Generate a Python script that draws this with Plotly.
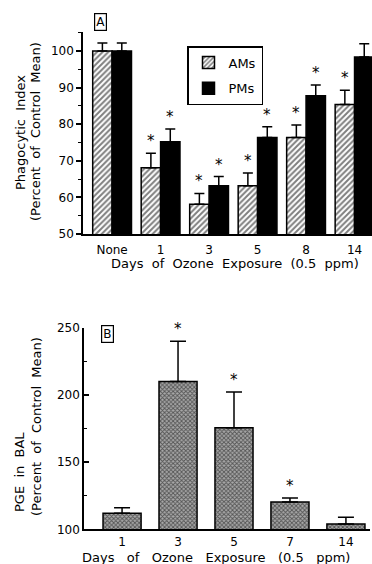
import plotly.graph_objects as go

# ---- Data ----
cats_a = ["None", "1", "3", "5", "8", "14"]
am_vals = [100, 68.1, 58.1, 63.2, 76.4, 85.4]
am_err = [2.2, 4.0, 3.0, 3.5, 3.4, 3.9]
pm_vals = [100, 75.2, 63.2, 76.4, 87.8, 98.4]
pm_err = [2.2, 3.5, 2.5, 2.9, 2.9, 3.6]
am_sig = [False, True, True, True, True, True]
pm_sig = [False, True, True, True, True, False]

cats_b = ["1", "3", "5", "7", "14"]
pge_vals = [112, 210, 175.6, 120.3, 104]
pge_err = [4, 30, 26.6, 3.0, 5]
pge_sig = [False, True, True, True, False]

W, H = 372, 564
FONT = "DejaVu Sans"

def px(x):
    return x / W

def py(y):
    return 1 - y / H

xa = list(range(len(cats_a)))
xb = list(range(len(cats_b)))

fig = go.Figure()

fig.add_trace(go.Bar(
    x=xa, y=am_vals, name="AMs", offset=-0.4, width=0.4,
    marker=dict(color="white", line=dict(color="black", width=1.5),
                pattern=dict(shape="/", fgcolor="black", bgcolor="white", size=4, solidity=0.5)),
    error_y=dict(type="data", symmetric=False, array=am_err, arrayminus=[0]*len(am_err),
                 color="black", thickness=1.5, width=5),
    legendgroup="am", xaxis="x", yaxis="y"))
fig.add_trace(go.Bar(
    x=xa, y=pm_vals, name="PMs", offset=0, width=0.4,
    marker=dict(color="black", line=dict(color="black", width=1.5)),
    error_y=dict(type="data", symmetric=False, array=pm_err, arrayminus=[0]*len(pm_err),
                 color="black", thickness=1.5, width=5),
    legendgroup="pm", xaxis="x", yaxis="y"))

fig.add_trace(go.Bar(
    x=xb, y=pge_vals, width=0.68, showlegend=False,
    marker=dict(color="#a0a0a0", line=dict(color="black", width=1.5),
                pattern=dict(shape="x", fgcolor="black", bgcolor="#a8a8a8", size=3, solidity=0.5)),
    error_y=dict(type="data", symmetric=False, array=pge_err, arrayminus=[0]*len(pge_err),
                 color="black", thickness=1.5, width=8),
    xaxis="x2", yaxis="y2"))

annotations = []
star_font = dict(size=15, family=FONT, color="black")
for i, s in enumerate(am_sig):
    if s:
        annotations.append(dict(x=i - 0.2, y=am_vals[i] + am_err[i], xref="x", yref="y",
                                text="*", showarrow=False, xanchor="center", yanchor="bottom",
                                yshift=1, font=star_font))
for i, s in enumerate(pm_sig):
    if s:
        annotations.append(dict(x=i + 0.2, y=pm_vals[i] + pm_err[i], xref="x", yref="y",
                                text="*", showarrow=False, xanchor="center", yanchor="bottom",
                                yshift=1, font=star_font))
for i, s in enumerate(pge_sig):
    if s:
        annotations.append(dict(x=i, y=pge_vals[i] + pge_err[i], xref="x2", yref="y2",
                                text="*", showarrow=False, xanchor="center", yanchor="bottom",
                                yshift=1, font=star_font))

tf = dict(size=13, family=FONT, color="black")
sp2 = "\u00a0 "
sp3 = "\u00a0\u00a0 "
xtitle_a = sp2.join(["Days", "of", "Ozone", "Exposure", "(0.5", "ppm)"])
xtitle_b = sp3.join(["Days", "of", "Ozone", "Exposure", "(0.5", "ppm)"])
ytitle2 = sp2.join(["(Percent", "of", "Control", "Mean)"])

def note(x, y, text, angle=0, xa_="center", ya_="middle", **kw):
    return dict(x=px(x), y=py(y), xref="paper", yref="paper", text=text, textangle=angle,
                showarrow=False, xanchor=xa_, yanchor=ya_, font=kw.pop("font", tf), **kw)

annotations += [
    note(20, 133, sp2.join(["Phagocytic", "Index"]), -90),
    note(35, 132, ytitle2, -90),
    note(235, 263, xtitle_a),
    note(19, 514, sp2.join(["PGE", "in", "BAL"]), -90, ya_="bottom"),
    note(36, 427, ytitle2, -90),
    note(216, 557, xtitle_b),
    note(100.5, 21.5, "A", bordercolor="black", borderwidth=1.2, borderpad=1,
         font=dict(size=12, family=FONT, color="black")),
    note(107, 334, "B", bordercolor="black", borderwidth=1.2, borderpad=1,
         font=dict(size=12, family=FONT, color="black")),
]

axis_common = dict(showline=True, linecolor="black", linewidth=1.5, showgrid=False,
                   zeroline=False, automargin=False,
                   tickfont=dict(size=12, family=FONT, color="black"))

fig.update_layout(
    width=W, height=H, margin=dict(l=0, r=0, t=0, b=0, autoexpand=False),
    paper_bgcolor="white", plot_bgcolor="white",
    barmode="overlay",
    font=dict(family=FONT, color="black"),
    xaxis=dict(domain=[px(83), 1.0], range=[-0.6, 5.36], anchor="y",
               tickvals=xa, ticktext=cats_a, ticks="", ticklabelstandoff=4, **axis_common),
    yaxis=dict(domain=[py(234), py(32)], range=[50, 105.2], anchor="x",
               tickvals=[50, 60, 70, 80, 90, 100], ticks="outside", ticklen=5, tickwidth=1.5,
               tickcolor="black",
               minor=dict(dtick=5, tick0=50, ticks="outside", ticklen=3, tickcolor="black", tickwidth=1),
               **axis_common),
    xaxis2=dict(domain=[px(84), px(370)], range=[-0.68, 4.43], anchor="y2",
                tickvals=xb, ticktext=cats_b, ticks="", ticklabelstandoff=1, **axis_common),
    yaxis2=dict(domain=[py(529.3), py(327.7)], range=[100, 250], anchor="x2",
                tickvals=[100, 150, 200, 250], ticks="inside", ticklen=5, tickwidth=1.5,
                tickcolor="black",
                minor=dict(dtick=25, tick0=100, ticks="inside", ticklen=3, tickcolor="black", tickwidth=1),
                **axis_common),
    legend=dict(x=px(187), y=py(46), xanchor="left", yanchor="top",
                bordercolor="black", borderwidth=1.5, bgcolor="white",
                font=dict(size=13, family=FONT, color="black"),
                traceorder="grouped", tracegroupgap=6, itemwidth=30),
    annotations=annotations,
)

fig.write_html("out.html")
